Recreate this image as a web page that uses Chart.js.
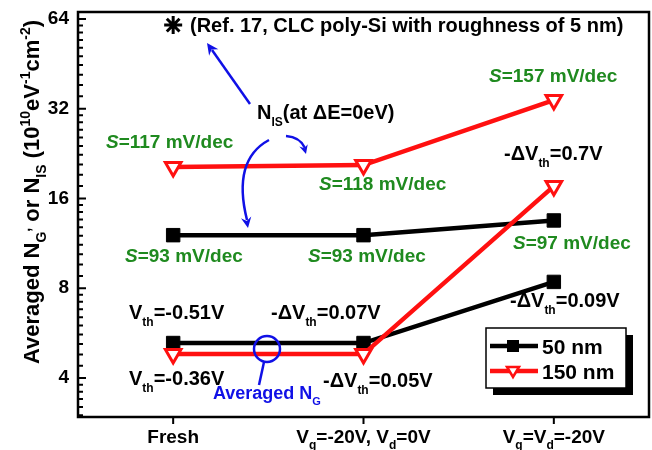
<!DOCTYPE html>
<html lang="en">
<head>
  <meta charset="UTF-8" />
  <title>Averaged NG / NIS</title>
  <script src="https://cdn.jsdelivr.net/npm/chart.js"></script>
  <style>
    html, body { margin: 0; padding: 0; background: #fff; }
    canvas { display: block; }
  </style>
</head>
<body>
  <canvas id="chart" width="652" height="450"></canvas>

  <script>
    // categories (markup: _{} subscript, ^{} superscript, *{} italic)
    const categories = ['Fresh', 'V_{g}=-20V, V_{d}=0V', 'V_{g}=V_{d}=-20V'];

    // values (10^10 eV^-1 cm^-2)
    const nis50  = [12.05, 12.05, 13.5];
    const ng50   = [5.24, 5.24, 8.4];
    const nis150 = [20.4, 20.7, 34.2];
    const ng150  = [4.81, 4.81, 17.6];
    const refStar = [61, null, null];   // Ref. 17 point

    const yTicks = [4, 8, 16, 32, 64];

    const FONT = 'Arial, "Liberation Sans", Helvetica, sans-serif';
    const GREEN = '#1f8a1f';
    const BLUE = '#1010e6';
    const RED = '#ff1010';

    function parseRich(str) {
      const segs = [];
      const re = /([_^*])\{([^}]*)\}/g;
      let last = 0, m;
      while ((m = re.exec(str))) {
        if (m.index > last) segs.push({ t: str.slice(last, m.index), mode: 'n' });
        segs.push({ t: m[2], mode: m[1] === '_' ? 'sub' : m[1] === '^' ? 'sup' : 'it' });
        last = re.lastIndex;
      }
      if (last < str.length) segs.push({ t: str.slice(last), mode: 'n' });
      return segs;
    }

    // draws text with sub/superscripts, y = baseline
    function drawRich(ctx, str, x, y, size, color, align) {
      const segs = parseRich(str);
      const fontFor = s => (s.mode === 'it' ? 'italic ' : '') + 'bold ' +
        (s.mode === 'sub' || s.mode === 'sup' ? Math.round(size * 0.62) : size) + 'px ' + FONT;
      let w = 0;
      segs.forEach(s => { ctx.font = fontFor(s); s.w = ctx.measureText(s.t).width; w += s.w; });
      let cx = align === 'center' ? x - w / 2 : align === 'right' ? x - w : x;
      ctx.fillStyle = color;
      ctx.textBaseline = 'alphabetic';
      ctx.textAlign = 'left';
      segs.forEach(s => {
        ctx.font = fontFor(s);
        const dy = s.mode === 'sub' ? size * 0.34 : s.mode === 'sup' ? -size * 0.42 : 0;
        ctx.fillText(s.t, cx, y + dy);
        cx += s.w;
      });
    }

    function arrowHead(ctx, x, y, ang, len) {
      ctx.beginPath();
      ctx.moveTo(x, y);
      ctx.lineTo(x - len * Math.cos(ang - 0.45), y - len * Math.sin(ang - 0.45));
      ctx.lineTo(x - len * 0.6 * Math.cos(ang), y - len * 0.6 * Math.sin(ang));
      ctx.lineTo(x - len * Math.cos(ang + 0.45), y - len * Math.sin(ang + 0.45));
      ctx.closePath();
      ctx.fill();
    }

    // text annotations: [markup, left x, baseline y, size, colour]
    const notes = [
      ['(Ref. 17, CLC poly-Si with roughness of 5 nm)', 190, 32, 20, '#000'],
      ['N_{IS}(at \u0394E=0eV)', 257, 119, 20, '#000'],
      ['*{S}=117 mV/dec', 106, 148, 19, GREEN],
      ['*{S}=157 mV/dec', 489, 82, 19, GREEN],
      ['*{S}=118 mV/dec', 319, 190, 19, GREEN],
      ['-\u0394V_{th}=0.7V', 504, 160, 20, '#000'],
      ['*{S}=93 mV/dec', 125, 262, 19, GREEN],
      ['*{S}=93 mV/dec', 308, 262, 19, GREEN],
      ['*{S}=97 mV/dec', 513, 249, 19, GREEN],
      ['V_{th}=-0.51V', 129, 319, 20, '#000'],
      ['-\u0394V_{th}=0.07V', 271, 319, 20, '#000'],
      ['-\u0394V_{th}=0.09V', 510, 307, 20, '#000'],
      ['V_{th}=-0.36V', 129, 385, 20, '#000'],
      ['-\u0394V_{th}=0.05V', 323, 387, 20, '#000'],
      ['Averaged N_{G}', 213, 399, 18, BLUE]
    ];

    const decorPlugin = {
      id: 'decor',
      afterDatasetsDraw(chart) {
        const ctx = chart.ctx;
        const a = chart.chartArea;
        const xs = chart.scales.x, ys = chart.scales.y;
        ctx.save();

        // frame
        ctx.strokeStyle = '#000';
        ctx.lineWidth = 2.5;
        ctx.strokeRect(a.left, a.top, a.right - a.left, a.bottom - a.top);

        // y ticks (inside), major + minor
        ctx.lineWidth = 2;
        ctx.beginPath();
        yTicks.forEach(v => {
          const y = ys.getPixelForValue(v);
          ctx.moveTo(a.left, y); ctx.lineTo(a.left + 8, y);
        });
        [2, 4, 8, 16, 32, 64].forEach(b => {
          for (let k = 1; k < 10; k++) {
            const v = b + k * b / 10;
            if (v <= ys.min || v >= ys.max) continue;
            const y = ys.getPixelForValue(v);
            ctx.moveTo(a.left, y); ctx.lineTo(a.left + 5, y);
          }
        });
        // x ticks (outside)
        categories.forEach((c, i) => {
          const x = xs.getPixelForValue(i);
          ctx.moveTo(x, a.bottom); ctx.lineTo(x, a.bottom + 7);
        });
        ctx.stroke();

        // x labels
        categories.forEach((c, i) => {
          drawRich(ctx, c, xs.getPixelForValue(i), 443, 19, '#000', 'center');
        });

        // y title
        ctx.save();
        ctx.translate(39, 192);
        ctx.rotate(-Math.PI / 2);
        drawRich(ctx, 'Averaged N_{G}^{,} or N_{IS} (10^{10}eV^{-1}cm^{-2})', 0, 0, 22, '#000', 'center');
        ctx.restore();

        // annotations
        notes.forEach(n => drawRich(ctx, n[0], n[1], n[2], n[3], n[4], 'left'));

        // blue arrows
        ctx.strokeStyle = BLUE;
        ctx.fillStyle = BLUE;
        ctx.lineWidth = 2.5;
        ctx.beginPath();
        ctx.moveTo(250, 104); ctx.lineTo(212, 50);
        ctx.stroke();
        arrowHead(ctx, 207, 43, Math.atan2(43 - 104, 207 - 250), 13);

        ctx.beginPath();
        ctx.moveTo(269, 140);
        ctx.quadraticCurveTo(232, 160, 247, 220);
        ctx.stroke();
        arrowHead(ctx, 248, 228, Math.atan2(228 - 200, 248 - 243), 12);

        ctx.beginPath();
        ctx.moveTo(286, 136);
        ctx.quadraticCurveTo(300, 137, 305, 148);
        ctx.stroke();
        arrowHead(ctx, 306, 154, Math.atan2(154 - 140, 306 - 302), 10);

        // circle marking averaged NG
        ctx.beginPath();
        ctx.arc(267, 349, 13, 0, Math.PI * 2);
        ctx.stroke();
        ctx.beginPath();
        ctx.moveTo(264, 362); ctx.lineTo(259, 385);
        ctx.stroke();

        ctx.restore();
      },
      afterDraw(chart) {
        const ctx = chart.ctx;
        ctx.save();
        // legend box with shadow
        const bx = 486, by = 328, bw = 140, bh = 60;
        ctx.fillStyle = '#000';
        ctx.fillRect(bx + 7, by + 7, bw, bh);
        ctx.fillStyle = '#fff';
        ctx.fillRect(bx, by, bw, bh);
        ctx.strokeStyle = '#000';
        ctx.lineWidth = 1.5;
        ctx.strokeRect(bx, by, bw, bh);

        const rows = [
          { label: '50 nm', color: '#000', y: 346, tri: false },
          { label: '150 nm', color: RED, y: 371, tri: true }
        ];
        rows.forEach(r => {
          ctx.strokeStyle = r.color;
          ctx.lineWidth = 4.5;
          ctx.beginPath();
          ctx.moveTo(490, r.y); ctx.lineTo(538, r.y);
          ctx.stroke();
          if (r.tri) {
            ctx.fillStyle = '#fff';
            ctx.lineWidth = 2.5;
            ctx.beginPath();
            ctx.moveTo(507, r.y - 4); ctx.lineTo(519, r.y - 4); ctx.lineTo(513, r.y + 6);
            ctx.closePath();
            ctx.fill(); ctx.stroke();
          } else {
            ctx.fillStyle = '#000';
            ctx.fillRect(507, r.y - 6, 12, 12);
          }
          drawRich(ctx, r.label, 542, r.y + 8, 21, '#000', 'left');
        });
        ctx.restore();
      }
    };

    function noScalePadding(s) {
      s.paddingTop = 0; s.paddingBottom = 0; s.paddingLeft = 0; s.paddingRight = 0;
    }

    const ctx = document.getElementById('chart').getContext('2d');

    new Chart(ctx, {
      type: 'line',
      data: {
        labels: categories,
        datasets: [
          {
            label: '150 nm', data: nis150, order: 0,
            borderColor: RED, borderWidth: 4.5, backgroundColor: '#fff',
            pointStyle: 'triangle', rotation: 180, pointRadius: 9, pointBorderWidth: 3
          },
          {
            label: '150 nm', data: ng150, order: 0,
            borderColor: RED, borderWidth: 4.5, backgroundColor: '#fff',
            pointStyle: 'triangle', rotation: 180, pointRadius: 9, pointBorderWidth: 3
          },
          {
            label: '50 nm', data: nis50, order: 1,
            borderColor: '#000', borderWidth: 4.5, backgroundColor: '#000',
            pointStyle: 'rect', pointRadius: 9.5, pointBorderWidth: 1
          },
          {
            label: '50 nm', data: ng50, order: 1,
            borderColor: '#000', borderWidth: 4.5, backgroundColor: '#000',
            pointStyle: 'rect', pointRadius: 9.5, pointBorderWidth: 1
          },
          {
            label: 'Ref. 17', data: refStar, order: 2, showLine: false,
            borderColor: '#000', backgroundColor: '#000',
            pointStyle: 'star', pointRadius: 9, pointBorderWidth: 3
          }
        ]
      },
      options: {
        responsive: false,
        animation: false,
        layout: { autoPadding: false, padding: { left: 0, top: 12, right: 3, bottom: 0 } },
        plugins: { legend: { display: false }, tooltip: { enabled: false } },
        scales: {
          x: {
            offset: true,
            grid: { display: false, drawTicks: false },
            border: { display: false },
            ticks: { display: false },
            afterFit: s => { s.height = 33; noScalePadding(s); }
          },
          y: {
            type: 'logarithmic',
            min: 2.96,
            max: 67.5,
            grid: { display: false, drawTicks: false },
            border: { display: false },
            ticks: {
              color: '#000',
              padding: 9,
              font: { family: FONT, size: 19, weight: 'bold' },
              callback: v => String(v)
            },
            afterBuildTicks: s => { s.ticks = yTicks.map(v => ({ value: v })); },
            afterFit: s => { s.width = 78; noScalePadding(s); }
          }
        }
      },
      plugins: [decorPlugin]
    });
  </script>
</body>
</html>
